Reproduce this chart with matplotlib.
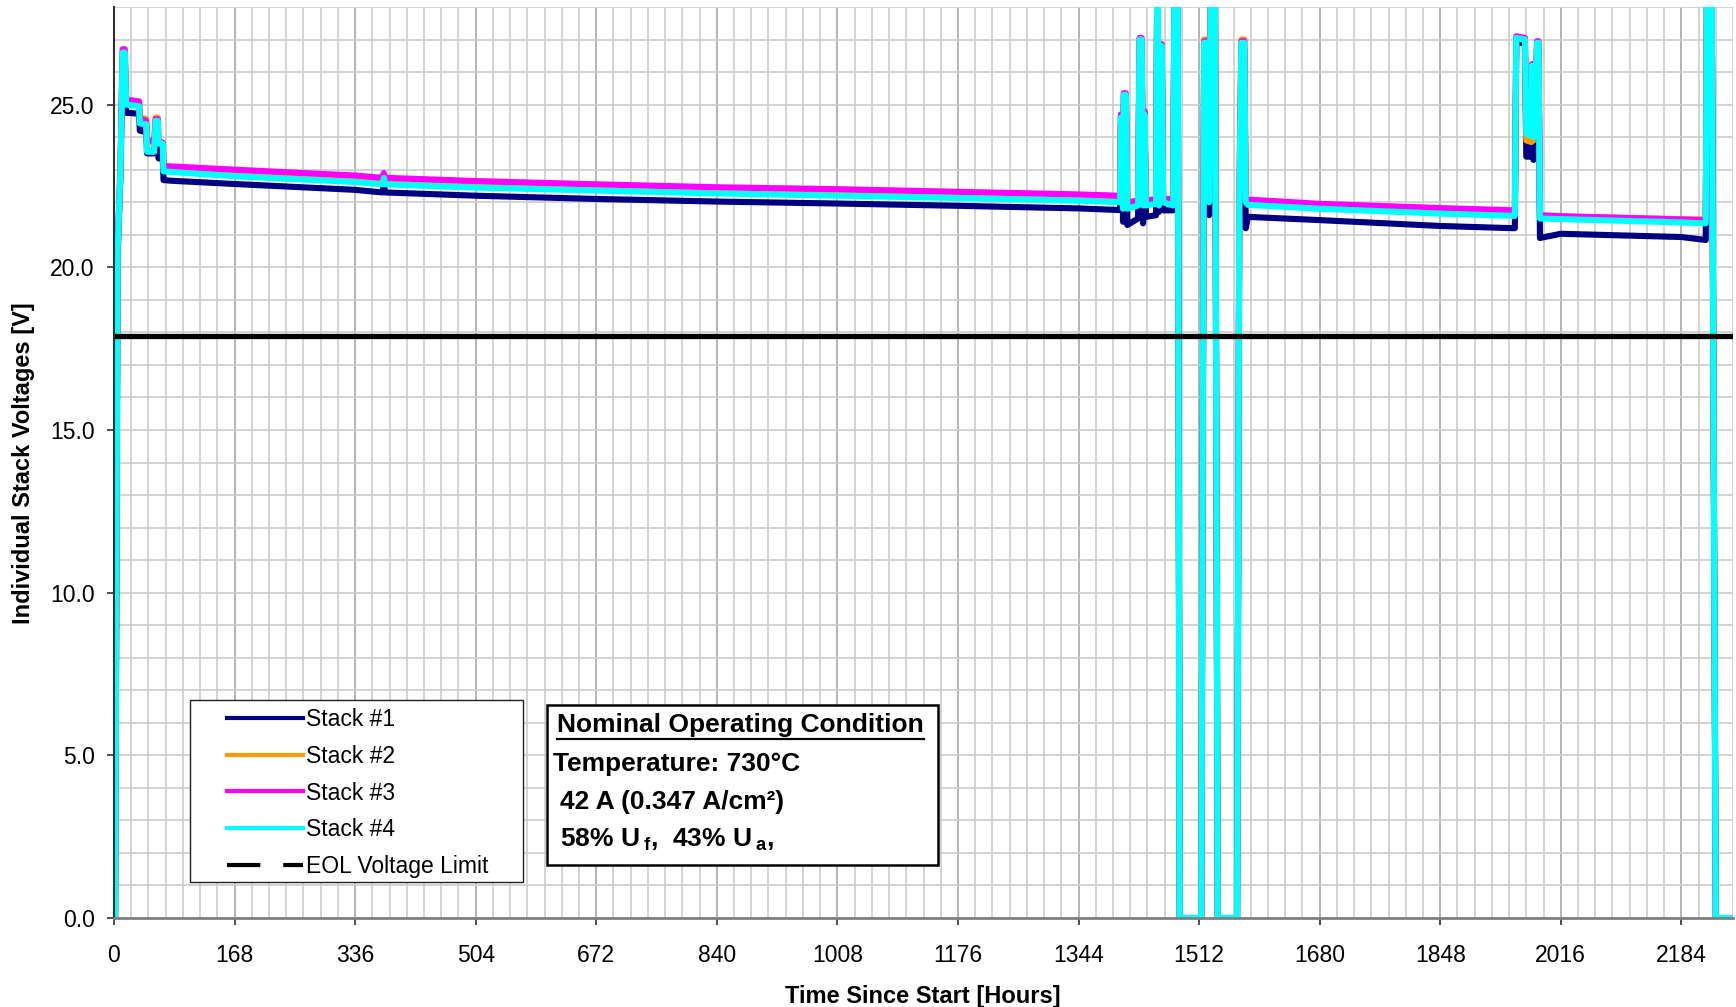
import matplotlib
matplotlib.use("Agg")
import matplotlib.pyplot as plt
from matplotlib.lines import Line2D
from matplotlib.patches import Rectangle
from matplotlib.ticker import MultipleLocator, FormatStrFormatter

plt.rcParams['font.family'] = ['Liberation Sans', 'DejaVu Sans']
plt.rcParams['mathtext.fontset'] = 'custom'
plt.rcParams['mathtext.rm'] = 'Liberation Sans:bold'
plt.rcParams['mathtext.bf'] = 'Liberation Sans:bold'
plt.rcParams['mathtext.it'] = 'Liberation Sans:bold'

# time since start [h]
hours = [0, 1.5, 5, 9, 12, 15, 17, 35, 36, 45, 46, 56, 58, 61, 62, 68, 69, 80,
         168, 336, 374, 376, 378, 504, 672, 840, 1008, 1176, 1344, 1400,
         1402, 1403, 1405, 1406, 1407, 1410, 1412, 1427, 1429, 1432, 1434, 1436,
         1438, 1452, 1454, 1456, 1458, 1460, 1462, 1476, 1478, 1482, 1485,
         1515, 1519, 1524, 1526, 1529, 1534, 1538, 1565, 1568, 1571, 1575, 1577,
         1580, 1680, 1848, 1952, 1954, 1966, 1968, 1975, 1976, 1978, 1983, 1985,
         1987, 2016, 2184, 2218, 2220, 2226, 2232, 2256]

stack1 = [0, 0, 20.3, 22.8, 26.4, 26.4, 24.75, 24.72, 24.2, 24.15, 23.5, 23.5, 24.3, 24.3, 23.35, 23.33, 22.68, 22.66,
          22.56, 22.38, 22.3, 22.55, 22.3, 22.2, 22.1, 22.02, 21.96, 21.89, 21.81, 21.76,
          21.76, 24.4, 24.4, 21.4, 25.0, 25.0, 21.3, 21.5, 26.8, 26.8, 21.35, 24.5,
          21.55, 21.6, 30, 21.7, 26.6, 26.6, 21.75, 21.75, 30, 30, 0,
          0, 26.7, 26.7, 21.6, 30, 30, 0, 0, 21.2, 26.7, 26.7, 21.2,
          21.55, 21.45, 21.27, 21.2, 26.9, 26.9, 23.4, 23.4, 26.0, 23.3, 26.7, 26.7,
          20.9, 21.03, 20.93, 20.84, 30, 30, 0, 0]

stack2 = [0, 0, 20.5, 23.0, 26.6, 26.6, 25.1, 25.05, 24.62, 24.55, 23.85, 23.83, 24.6, 24.6, 23.85, 23.83, 23.05, 23.03,
          22.92, 22.74, 22.67, 22.82, 22.67, 22.56, 22.46, 22.37, 22.3, 22.22, 22.14, 22.1,
          22.1, 24.65, 24.65, 21.95, 25.3, 25.3, 21.9, 21.95, 27.0, 27.0, 21.95, 24.75,
          22.0, 22.05, 30, 22.0, 26.85, 26.85, 22.05, 22.0, 30, 30, 0,
          0, 27.0, 27.0, 22.05, 30, 30, 0, 0, 22.05, 27.0, 27.0, 22.05,
          22.0, 21.88, 21.76, 21.7, 27.05, 27.0, 23.9, 23.85, 26.2, 23.9, 26.9, 26.9,
          21.58, 21.56, 21.48, 21.46, 30, 30, 0, 0]

stack3 = [0, 0, 20.6, 23.1, 26.7, 26.7, 25.15, 25.1, 24.55, 24.5, 23.9, 23.88, 24.55, 24.55, 23.85, 23.83, 23.12, 23.1,
          23.0, 22.82, 22.75, 22.9, 22.75, 22.65, 22.55, 22.46, 22.4, 22.32, 22.24, 22.2,
          22.2, 24.7, 24.7, 22.0, 25.35, 25.35, 22.0, 22.05, 27.05, 27.05, 22.0, 24.8,
          22.05, 22.1, 30, 22.05, 26.85, 26.85, 22.1, 22.1, 30, 30, 0,
          0, 26.95, 26.95, 22.1, 30, 30, 0, 0, 22.1, 26.95, 26.95, 22.1,
          22.08, 21.95, 21.82, 21.75, 27.1, 27.05, 24.15, 24.1, 26.25, 24.1, 26.95, 26.95,
          21.6, 21.57, 21.47, 21.45, 30, 30, 0, 0]

stack4 = [0, 0, 20.5, 23.0, 26.6, 26.6, 25.0, 24.95, 24.42, 24.4, 23.55, 23.55, 24.5, 24.5, 23.8, 23.8, 22.95, 22.93,
          22.8, 22.62, 22.55, 22.75, 22.55, 22.45, 22.36, 22.27, 22.2, 22.13, 22.05, 22.0,
          22.0, 24.6, 24.6, 21.8, 25.3, 25.3, 21.8, 21.9, 27.0, 27.0, 21.9, 24.7,
          21.9, 21.95, 30, 21.9, 26.8, 26.8, 22.0, 21.9, 30, 30, 0,
          0, 26.9, 26.9, 22.0, 30, 30, 0, 0, 22.0, 26.9, 26.9, 22.0,
          21.92, 21.8, 21.65, 21.58, 27.05, 27.0, 24.1, 24.05, 26.2, 24.0, 26.9, 26.9,
          21.5, 21.48, 21.38, 21.35, 30, 30, 0, 0]

eol_limit = 17.9
labels = ['Stack #1', 'Stack #2', 'Stack #3', 'Stack #4']
colors = ['#000080', '#FF9900', '#FF00FF', '#00FFFF']

W, H = 1736, 1007
def fx(px):
    return px / W
def fy(py):
    return 1 - py / H

fig = plt.figure(figsize=(W / 100, H / 100), dpi=100)
ax = fig.add_axes([fx(114), fy(918), (1733 - 114) / W, (918 - 7) / H])

for v, c, lab in zip([stack1, stack2, stack3, stack4], colors, labels):
    ax.plot(hours, v, color=c, lw=4.4, label=lab, solid_joinstyle='round', solid_capstyle='round')
ax.axhline(eol_limit, color='black', lw=3.8)

ax.set_xlim(0, 2256)
ax.set_ylim(0, 28)
ax.xaxis.set_major_locator(MultipleLocator(168))
ax.xaxis.set_minor_locator(MultipleLocator(24))
ax.yaxis.set_major_locator(MultipleLocator(5))
ax.yaxis.set_minor_locator(MultipleLocator(1))
ax.yaxis.set_major_formatter(FormatStrFormatter('%.1f'))
ax.grid(which='major', axis='x', color='#a8a8a8', lw=1.2)
ax.grid(which='minor', axis='x', color='#cccccc', lw=1.2)
ax.grid(which='both', axis='y', color='#cccccc', lw=1.2)
ax.set_axisbelow(True)
ax.tick_params(which='minor', length=0)
ax.tick_params(which='major', length=5, width=1.3, color='#404040', labelsize=16.5)
ax.tick_params(axis='x', pad=14)
ax.tick_params(axis='y', pad=9)
for s in ['top', 'right']:
    ax.spines[s].set_visible(False)
ax.spines['left'].set_color('#303030')
ax.spines['left'].set_linewidth(1.5)
ax.spines['bottom'].set_color('#808080')
ax.spines['bottom'].set_linewidth(2)

fig.text(fx(923), fy(996), 'Time Since Start [Hours]', ha='center', va='center', fontsize=17, fontweight='bold')
fig.text(fx(24), fy(463), 'Individual Stack Voltages [V]', ha='center', va='center', rotation=90,
         fontsize=17, fontweight='bold')

# legend, with its own box behind it
handles = [Line2D([], [], color=c, lw=3) for c in colors]
handles.append(Line2D([], [], color='black', lw=3, dashes=(8, 5.5)))
leg = ax.legend(handles, labels + ['EOL Voltage Limit'], loc='upper left', bbox_to_anchor=(fx(227), fy(708)),
                bbox_transform=fig.transFigure, frameon=False, fontsize=16.5, borderpad=0, borderaxespad=0,
                handlelength=3.3, handletextpad=0.15, labelspacing=0.6)
leg.set_zorder(6)
ax.add_artist(Rectangle((fx(190), fy(882)), (523 - 190) / W, (882 - 700) / H, transform=fig.transFigure,
                        facecolor='white', edgecolor='#202020', lw=1.0, zorder=5.5, clip_on=False))

# operating condition box
ax.add_artist(Rectangle((fx(547), fy(865)), (938 - 547) / W, (865 - 705) / H, transform=fig.transFigure,
                        facecolor='white', edgecolor='black', lw=1.8, zorder=5.5, clip_on=False))
title = fig.text(fx(557), fy(725), 'Nominal Operating Condition', ha='left', va='center', fontsize=19,
                 fontweight='bold', zorder=6)
fig.text(fx(553), fy(764), 'Temperature: 730°C', ha='left', va='center', fontsize=19, fontweight='bold', zorder=6)
fig.text(fx(560), fy(802), '42 A (0.347 A/cm²)', ha='left', va='center', fontsize=19, fontweight='bold', zorder=6)
fig.text(fx(560), fy(840), r'58% U$\,_{\mathrm{f}}$,  43% U$\,_{\mathrm{a}}$,', ha='left', va='center',
         fontsize=19, fontweight='bold', zorder=6)

fig.canvas.draw()
bb = title.get_window_extent()
fig.add_artist(Line2D([bb.x0 / W, bb.x1 / W], [fy(739), fy(739)], transform=fig.transFigure,
                      color='black', lw=1.6, zorder=6))

fig.savefig('out.png', dpi=100)
